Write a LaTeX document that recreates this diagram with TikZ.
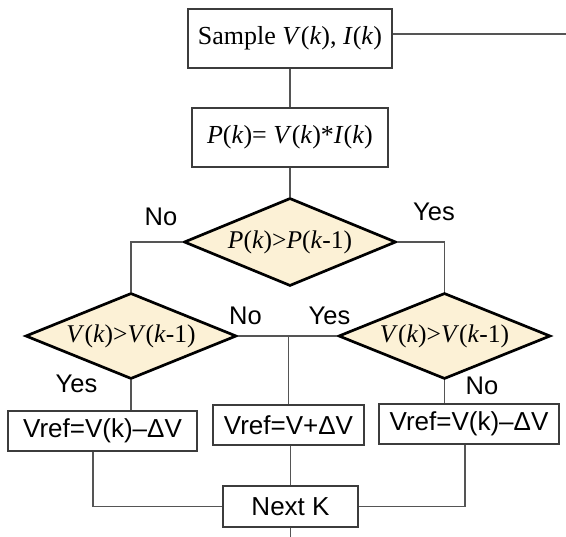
\documentclass[tikz,border=0pt]{standalone}
\usepackage{fontspec}
\setmainfont{Liberation Serif}
\newfontfamily\labelfont{Liberation Sans}
\usetikzlibrary{shapes.geometric}
\definecolor{creamfill}{RGB}{252,241,214}
\definecolor{linegray}{RGB}{85,85,85}
\definecolor{boxgray}{RGB}{60,60,60}
\newcommand{\iv}[1]{\textit{#1}}
\tikzset{
  procbox/.style={draw=boxgray, line width=1.5pt, fill=white, inner sep=0pt,
    font=\fontsize{26}{31}\selectfont},
  sansbox/.style={procbox, font=\labelfont\fontsize{26}{31}\selectfont},
  decision/.style={diamond, aspect=2.4, draw=black, line width=2.7pt,
    fill=creamfill, inner sep=0pt, font=\fontsize{25.5}{30}\selectfont},
  conn/.style={draw=linegray, line width=1.4pt},
  answer/.style={font=\labelfont\fontsize{25.5}{30}\selectfont, inner sep=0pt}
}
\begin{document}
\begin{tikzpicture}[x=1pt, y=-1pt]
  \useasboundingbox[fill=white] (0,0) rectangle (566,537);

  % process steps
  \node[procbox, minimum width=204pt, minimum height=59pt] (sample) at (290,38.5)
    {Sample \iv{V}(\iv{k}), \iv{I}(\iv{k})};
  \node[procbox, minimum width=196pt, minimum height=59pt] (power) at (290,137.5)
    {\iv{P}(\iv{k})= \iv{V}(\iv{k})*\iv{I}(\iv{k})};

  % decisions
  \node[decision, minimum width=212pt, minimum height=88pt] (dp) at (290,242)
    {\iv{P}(\iv{k})>\iv{P}(\iv{k}-1)};
  \node[decision, minimum width=211pt, minimum height=86pt] (dvl) at (131,336)
    {\iv{V}(\iv{k})>\iv{V}(\iv{k}-1)};
  \node[decision, minimum width=212pt, minimum height=86pt] (dvr) at (444.5,336)
    {\iv{V}(\iv{k})>\iv{V}(\iv{k}-1)};

  % reference updates
  \node[sansbox, minimum width=189pt, minimum height=40pt] (decl) at (102.5,431)
    {Vref=V(k)–ΔV};
  \node[sansbox, minimum width=151pt, minimum height=40pt] (inc) at (288.5,425)
    {Vref=V+ΔV};
  \node[sansbox, minimum width=180pt, minimum height=40pt] (decr) at (469,424)
    {Vref=V(k)–ΔV};
  \node[sansbox, minimum width=135pt, minimum height=41pt] (next) at (290.5,506.5)
    {Next K};

  % free ends
  \coordinate (feedback) at (566,34);
  \coordinate (loopout) at (290.5,537);

  % connectors
  \draw[conn] (sample.east |- feedback) -- (feedback);
  \draw[conn] (sample.south) -- (power.north);
  \draw[conn] (power.south) -- (dp.north);
  \draw[conn] (dp.west) -| (dvl.north);
  \draw[conn] (dp.east) -| (dvr.north);
  \draw[conn] (dvl.east) -- (dvr.west);
  \coordinate (split) at (inc.north |- dvl.east);
  \draw[conn] (split) -- (inc.north);
  \draw[conn] (dvl.south) -- (dvl.south |- decl.north);
  \draw[conn] (dvr.south) -- (dvr.south |- decr.north);
  \draw[conn] ([xshift=-9.5pt]decl.south) |- (next.west);
  \draw[conn] ([xshift=-4pt]decr.south) |- (next.east);
  \draw[conn] (next.north |- inc.south) -- (next.north);
  \draw[conn] (next.south) -- (loopout);

  % branch labels
  \node[answer] (lno1) at (161,217) {No};
  \node[answer] (lyes1) at (434,212) {Yes};
  \node[answer] (lno2) at (245.5,316) {No};
  \node[answer] (lyes2) at (329.5,316) {Yes};
  \node[answer] (lyes3) at (76.5,384) {Yes};
  \node[answer] (lno3) at (482,386) {No};
\end{tikzpicture}
\end{document}
